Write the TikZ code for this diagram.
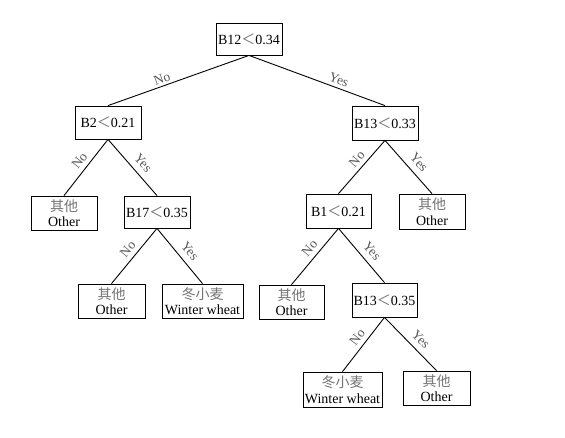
\documentclass[tikz,border=0pt]{standalone}
\usepackage{fontspec}
\setmainfont{Liberation Serif}
\newfontfamily\tnr{Liberation Serif}
\newfontfamily\cjk{Noto Sans CJK SC}
\definecolor{cjkgray}{gray}{0.45}
\definecolor{labgray}{gray}{0.35}
\newcommand\myLT{{\cjk\color{cjkgray}＜}}
\newcommand\myZH[1]{{\cjk\color{cjkgray}#1}}
\begin{document}
\begin{tikzpicture}[x=1pt,y=-1pt,
  box/.style={draw, line width=0.8pt, inner sep=0.5pt, minimum width=66pt, minimum height=33pt,
    align=center, font=\tnr\fontsize{14}{15.5}\selectfont},
  lab/.style={sloped, inner sep=0pt, text=labgray, font=\tnr\fontsize{13.5}{14}\selectfont},
  edge/.style={line width=0.9pt}]
\fill[white] (0,0) rectangle (565,437);
\useasboundingbox (0,0) rectangle (565,437);
\node[box, minimum height=32pt] (root) at (249,39) {B12\myLT0.34};
\node[box] (b2) at (108,122.5) {B2\myLT0.21};
\node[box, minimum height=34pt] (b13a) at (385,123) {B13\myLT0.33};
\node[box, minimum height=34pt] (o1) at (64,213) {\myZH{其他}\\Other};
\node[box, minimum height=32pt] (b17) at (157,212) {B17\myLT0.35};
\node[box, minimum width=65pt, minimum height=34pt] (b1) at (338.5,211) {B1\myLT0.21};
\node[box, minimum height=35pt] (o2) at (432,211.5) {\myZH{其他}\\Other};
\node[box, minimum width=67pt, minimum height=34pt] (o3) at (111.5,301) {\myZH{其他}\\Other};
\node[box, minimum width=81pt, minimum height=34pt] (w1) at (202.5,301) {\myZH{冬小麦}\\Winter wheat};
\node[box, minimum width=65pt, minimum height=34pt] (o4) at (291.5,302) {\myZH{其他}\\Other};
\node[box, minimum width=65pt, minimum height=34pt] (b13b) at (384.5,300) {B13\myLT0.35};
\node[box, minimum width=79pt, minimum height=35pt] (w2) at (342.5,389.5) {\myZH{冬小麦}\\Winter wheat};
\node[box, minimum width=67pt, minimum height=34pt] (o5) at (436.5,388) {\myZH{其他}\\Other};
\draw[edge] (root.south) -- node[lab, pos=0.6, above=2.5pt] {No} (b2.north);
\draw[edge] (root.south) -- node[lab, pos=0.64, above=3.5pt] {Yes} (b13a.north);
\draw[edge] (b2.south) -- node[lab, pos=0.48, above=4.5pt] {No} (o1.north);
\draw[edge] (b2.south) -- node[lab, pos=0.55, above=6pt] {Yes} (b17.north);
\draw[edge] (b13a.south) -- node[lab, pos=0.46, above=4pt] {No} (b1.north);
\draw[edge] (b13a.south) -- node[lab, pos=0.55, above=6pt] {Yes} (o2.north);
\draw[edge] (b17.south) -- node[lab, pos=0.48, above=4.5pt] {No} (o3.north);
\draw[edge] (b17.south) -- node[lab, pos=0.54, above=6pt] {Yes} (w1.north);
\draw[edge] (b1.south) -- node[lab, pos=0.46, above=4.5pt] {No} (o4.north);
\draw[edge] (b1.south) -- node[lab, pos=0.55, above=6pt] {Yes} (b13b.north);
\draw[edge] (b13b.south) -- node[lab, pos=0.47, above=4.5pt] {No} (w2.north);
\draw[edge] (b13b.south) -- node[lab, pos=0.55, above=6pt] {Yes} (o5.north);
\end{tikzpicture}
\end{document}
